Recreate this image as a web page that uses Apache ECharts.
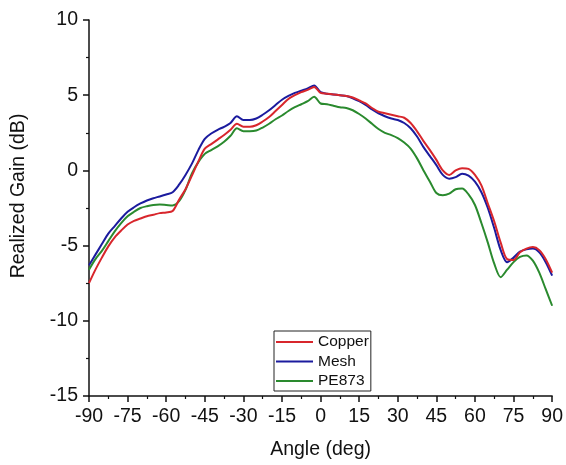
<!DOCTYPE html>
<html><head><meta charset="utf-8">
<script src="https://cdn.jsdelivr.net/npm/echarts@6/dist/echarts.min.js"></script>
<style>html,body{margin:0;padding:0;background:#fff}#c{width:566px;height:465px}</style>
</head><body><div id="c"></div>
<script>
const angles = [];
for (let a = -90; a <= 90; a += 2.5) angles.push(a);
const xTicks = [-90,-75,-60,-45,-30,-15,0,15,30,45,60,75,90];
const yTicks = [-15,-10,-5,0,5,10];
const seriesNames = ['Copper','Mesh','PE873'];
const copper = [-7.5,-6.6,-5.8,-5.05,-4.45,-4.0,-3.6,-3.35,-3.2,-3.05,-2.95,-2.84,-2.8,-2.7,-1.95,-1.25,-0.35,0.6,1.45,1.75,2.05,2.35,2.7,3.1,2.9,2.9,3.0,3.25,3.55,3.95,4.35,4.75,5.0,5.2,5.35,5.55,5.15,5.1,5.05,5.0,4.95,4.85,4.65,4.45,4.15,3.9,3.8,3.7,3.6,3.5,3.15,2.6,1.95,1.35,0.7,0.0,-0.3,0.0,0.15,0.1,-0.3,-1.0,-2.2,-3.4,-4.8,-5.9,-5.95,-5.45,-5.2,-5.1,-5.3,-5.9,-6.8];
const mesh = [-6.3,-5.6,-4.9,-4.2,-3.7,-3.2,-2.75,-2.45,-2.2,-2.0,-1.85,-1.73,-1.6,-1.45,-0.95,-0.3,0.45,1.35,2.1,2.45,2.7,2.9,3.15,3.6,3.35,3.35,3.45,3.7,4.0,4.35,4.7,4.95,5.15,5.3,5.45,5.65,5.2,5.1,5.05,5.0,4.95,4.8,4.6,4.35,4.05,3.8,3.6,3.45,3.35,3.15,2.8,2.25,1.55,0.95,0.35,-0.3,-0.55,-0.45,-0.22,-0.35,-0.75,-1.45,-2.5,-3.85,-5.3,-6.1,-5.8,-5.4,-5.25,-5.2,-5.45,-6.1,-7.0];
const pe873 = [-6.6,-5.9,-5.35,-4.7,-4.05,-3.5,-3.05,-2.75,-2.5,-2.38,-2.3,-2.27,-2.3,-2.33,-2.05,-1.3,-0.2,0.55,1.1,1.35,1.6,1.9,2.3,2.8,2.6,2.6,2.65,2.85,3.1,3.4,3.65,3.95,4.2,4.4,4.6,4.9,4.45,4.4,4.3,4.2,4.15,4.0,3.75,3.45,3.1,2.75,2.5,2.35,2.15,1.85,1.45,0.8,0.0,-0.75,-1.5,-1.65,-1.55,-1.25,-1.2,-1.6,-2.3,-3.5,-4.8,-6.2,-7.1,-6.6,-6.1,-5.75,-5.65,-6.0,-6.8,-7.9,-9.0];
const colors = ['#d8262c','#1b1b9e','#2a8a2e'];
const values = [copper, mesh, pe873];

const chart = echarts.init(document.getElementById('c'), null, {renderer:'canvas'});
const font = 'Liberation Sans, Arial, sans-serif';
chart.setOption({
  animation:false,
  backgroundColor:'#fff',
  grid:{left:89,right:13,top:20,bottom:69,containLabel:false},
  legend:{
    orient:'vertical', left:274, top:331,
    data:seriesNames.map(n=>({name:n, icon:'rect'})),
    itemWidth:37, itemHeight:2, itemGap:3.5,
    padding:[3,2,2,2],
    borderColor:'#222', borderWidth:1,
    textStyle:{fontFamily:font, fontSize:15.5, color:'#111'}
  },
  xAxis:{
    type:'value', min:-90, max:90, interval:15,
    name:'Angle (deg)', nameLocation:'middle', nameGap:44,
    nameTextStyle:{fontFamily:font, fontSize:19.5, color:'#111'},
    axisLine:{show:true, onZero:false, lineStyle:{color:'#111', width:1.5}},
    axisTick:{show:true, inside:false, length:6, lineStyle:{color:'#111', width:1.5}},
    minorTick:{show:true, splitNumber:2, length:3, lineStyle:{color:'#111', width:1.2}},
    axisLabel:{fontFamily:font, fontSize:19.5, color:'#111', margin:11,
      formatter:v => xTicks.includes(v) ? String(v) : ''},
    splitLine:{show:false}
  },
  yAxis:{
    type:'value', min:-15, max:10, interval:5,
    name:'Realized Gain (dB)', nameLocation:'middle', nameGap:60, nameRotate:90,
    nameTextStyle:{fontFamily:font, fontSize:19.5, color:'#111', padding:[0,0,0,24]},
    axisLine:{show:true, onZero:false, lineStyle:{color:'#111', width:1.5}},
    axisTick:{show:true, inside:false, length:6, lineStyle:{color:'#111', width:1.5}},
    minorTick:{show:true, splitNumber:2, length:3, lineStyle:{color:'#111', width:1.2}},
    axisLabel:{fontFamily:font, fontSize:19.5, color:'#111', margin:11,
      formatter:v => yTicks.includes(v) ? String(v) : ''},
    splitLine:{show:false}
  },
  series: seriesNames.map((n,i)=>({
    name:n, type:'line', symbol:'none', smooth:0.3,
    data: angles.map((a,j)=>[a, values[i][j]]),
    lineStyle:{color:colors[i], width:2},
    itemStyle:{color:colors[i]},
    z: 3 - i
  }))
});
</script></body></html>
